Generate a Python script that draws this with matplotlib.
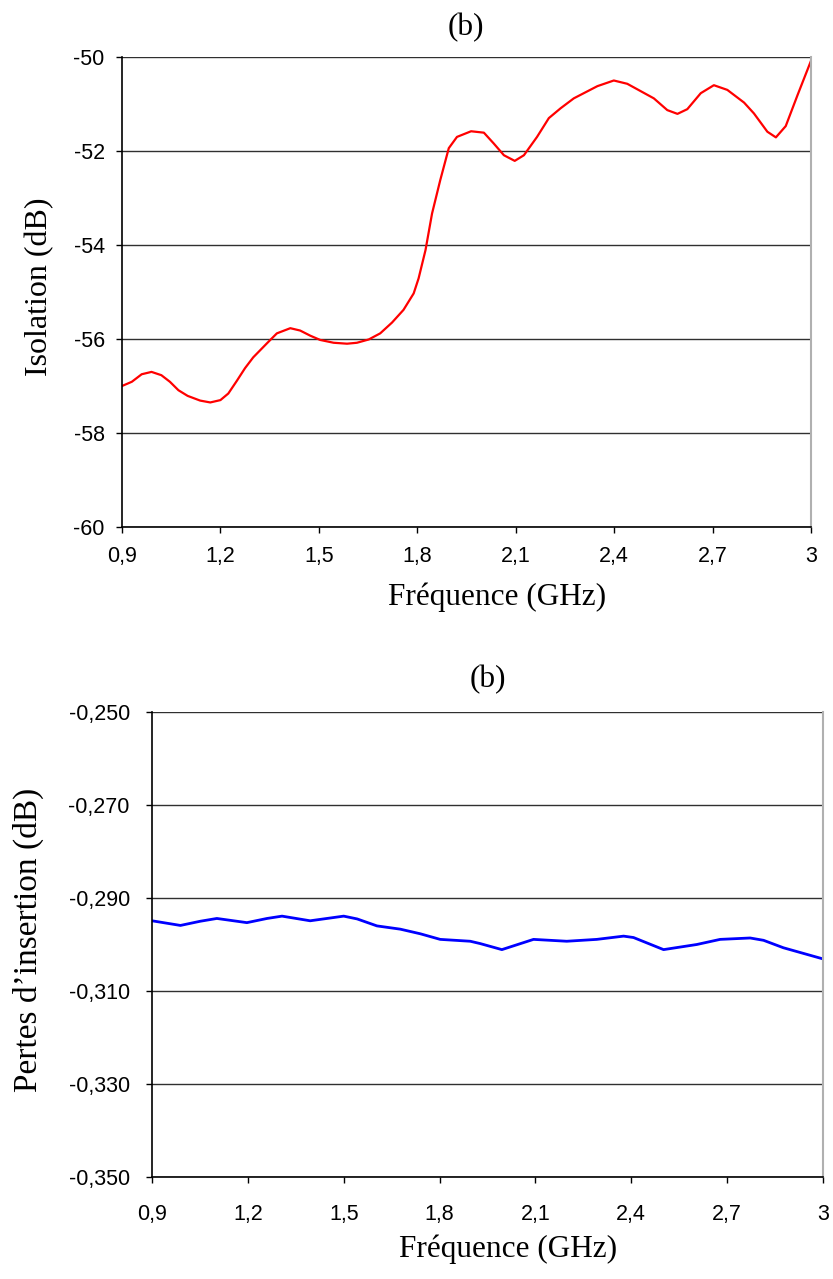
import matplotlib
matplotlib.use("Agg")
import matplotlib.pyplot as plt
from matplotlib.ticker import FuncFormatter

# ---------------- data ----------------
iso_freq = [0.90, 0.93, 0.96, 0.99, 1.02, 1.046, 1.072, 1.10, 1.138, 1.169, 1.20, 1.224,
            1.25, 1.275, 1.30, 1.342, 1.372, 1.413, 1.443, 1.474, 1.504, 1.545, 1.586,
            1.616, 1.652, 1.687, 1.723, 1.758, 1.789, 1.804, 1.825, 1.845, 1.870, 1.896,
            1.921, 1.964, 2.003, 2.033, 2.064, 2.097, 2.125, 2.165, 2.201, 2.237, 2.277,
            2.349, 2.399, 2.440, 2.521, 2.562, 2.593, 2.623, 2.664, 2.704, 2.745, 2.796,
            2.826, 2.867, 2.893, 2.923, 2.959, 3.00]
iso_db = [-57.00, -56.91, -56.75, -56.70, -56.77, -56.91, -57.09, -57.21, -57.31, -57.35,
          -57.30, -57.16, -56.89, -56.62, -56.39, -56.09, -55.88, -55.77, -55.82, -55.93,
          -56.02, -56.08, -56.10, -56.08, -56.01, -55.88, -55.65, -55.38, -55.03, -54.71,
          -54.11, -53.33, -52.62, -51.94, -51.70, -51.58, -51.61, -51.84, -52.09, -52.21,
          -52.09, -51.70, -51.30, -51.09, -50.88, -50.62, -50.50, -50.57, -50.88, -51.13,
          -51.21, -51.11, -50.77, -50.60, -50.70, -50.97, -51.20, -51.59, -51.71, -51.47,
          -50.81, -50.08]

il_freq = [0.90, 0.989, 1.051, 1.103, 1.197, 1.260, 1.307, 1.395, 1.500, 1.542, 1.604,
           1.677, 1.740, 1.802, 1.896, 1.927, 1.995, 2.094, 2.198, 2.292, 2.376, 2.407,
           2.501, 2.605, 2.678, 2.772, 2.814, 2.876, 3.00]
il_db = [-0.2949, -0.2959, -0.2950, -0.2944, -0.2953, -0.2944, -0.2939, -0.2949, -0.2939,
         -0.2945, -0.2960, -0.2967, -0.2977, -0.2989, -0.2993, -0.2998, -0.3011, -0.2989,
         -0.2993, -0.2989, -0.2982, -0.2985, -0.3011, -0.3000, -0.2989, -0.2986, -0.2991,
         -0.3007, -0.3031]

x_ticks = [0.9, 1.2, 1.5, 1.8, 2.1, 2.4, 2.7, 3.0]
iso_yticks = [-60, -58, -56, -54, -52, -50]
il_yticks = [-0.350, -0.330, -0.310, -0.290, -0.270, -0.250]

title_text = "(b)"
xlabel_text = "Fréquence (GHz)"
iso_ylabel = "Isolation (dB)"
il_ylabel = "Pertes d\u2019insertion (dB)"

# ---------------- style ----------------
W, H = 833, 1279
serif = ["Liberation Serif", "DejaVu Serif"]
tickfont = ["Liberation Sans", "DejaVu Sans"]

fig = plt.figure(figsize=(W / 100, H / 100), dpi=100)

def fx(px):
    return px / W

def fy(py):
    return 1 - py / H

def fmt_x(v, _):
    return ("%g" % round(v, 2)).replace(".", ",")

def style_axes(ax, yticks, yfmt, xpad, ypad):
    ax.set_xlim(0.9, 3.0)
    ax.set_ylim(yticks[0], yticks[-1])
    ax.set_xticks(x_ticks)
    ax.set_yticks(yticks)
    ax.xaxis.set_major_formatter(FuncFormatter(fmt_x))
    ax.yaxis.set_major_formatter(FuncFormatter(yfmt))
    ax.grid(axis="y", color="#303030", linewidth=1.0)
    ax.set_axisbelow(True)
    ax.spines["top"].set_visible(False)
    ax.spines["right"].set_color("#b0b0b0")
    ax.spines["right"].set_linewidth(1.5)
    for s in ("left", "bottom"):
        ax.spines[s].set_color("black")
        ax.spines[s].set_linewidth(1.2)
    ax.tick_params(axis="both", direction="out", length=4.5, width=1.0, labelsize=15.5)
    ax.tick_params(axis="y", pad=ypad)
    ax.tick_params(axis="x", pad=xpad)
    for lab in ax.get_xticklabels() + ax.get_yticklabels():
        lab.set_family(tickfont)

# top chart: axes from x 122..811, y 57..527 px
ax1 = fig.add_axes([fx(122), fy(527), fx(811) - fx(122), fy(57) - fy(527)])
ax1.plot(iso_freq, iso_db, color="#ff0000", linewidth=1.6)
style_axes(ax1, iso_yticks, lambda v, _: "%d" % round(v), 9, 8)
fig.text(fx(466), fy(28), title_text, family=serif, fontsize=22.5, ha="center", va="center")
fig.text(fx(497), fy(605), xlabel_text, family=serif, fontsize=22.5, ha="center", va="baseline")
fig.text(fx(40), fy(287), iso_ylabel, family=serif, fontsize=23, ha="center", va="center",
         rotation=90)

# bottom chart: axes from x 152..823, y 712..1177 px
ax2 = fig.add_axes([fx(152), fy(1177), fx(823) - fx(152), fy(712) - fy(1177)])
ax2.plot(il_freq, il_db, color="#0000ff", linewidth=2.0)
style_axes(ax2, il_yticks, lambda v, _: ("%.3f" % v).replace(".", ","), 15, 11.5)
fig.text(fx(488), fy(680), title_text, family=serif, fontsize=22.5, ha="center", va="center")
fig.text(fx(508), fy(1257), xlabel_text, family=serif, fontsize=22.5, ha="center", va="baseline")
fig.text(fx(28), fy(940), il_ylabel, family=serif, fontsize=24, ha="center", va="center",
         rotation=90)

fig.savefig("out.png", dpi=100)
